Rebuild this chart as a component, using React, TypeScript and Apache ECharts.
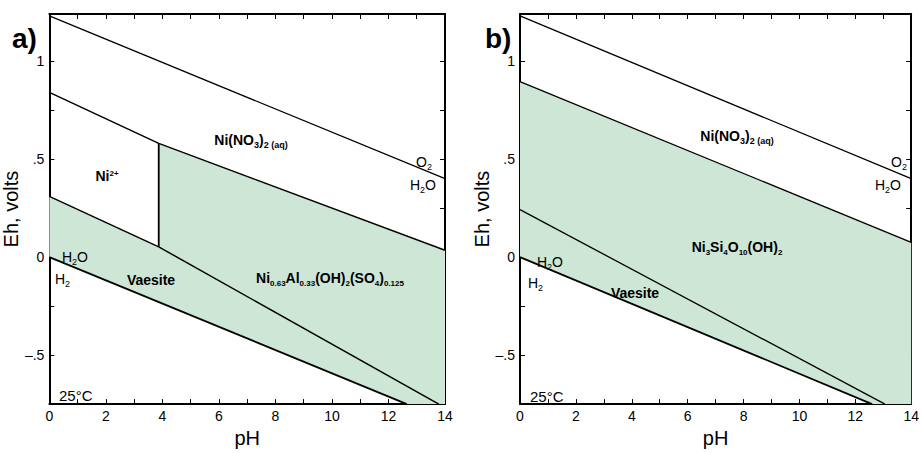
import React, { useEffect, useRef } from "react";
import * as echarts from "echarts";

// ---- data (pH, Eh in volts) ----
const pHRange = [0, 14];
const EhRange = [-0.75, 1.24];

// Panel a
const waterUpperA = [[0, 1.23], [14, 0.40]];
const waterLowerA = [[0, 0], [12.65, -0.75]];
const nitrateBoundA = [[0, 0.84], [3.87, 0.58], [14, 0.035]];
const ni2VerticalA = [[3.87, 0.58], [3.87, 0.052]];
const vaesiteTopA = [[0, 0.31], [3.87, 0.052], [13.78, -0.75]];
const stableFieldA = [[0, 0], [0, 0.31], [3.87, 0.052], [3.87, 0.58], [14, 0.035], [14, -0.75], [12.65, -0.75]];

// Panel b
const waterUpperB = [[0, 1.23], [14, 0.40]];
const waterLowerB = [[0, 0], [12.6, -0.75]];
const nitrateBoundB = [[0, 0.895], [14, 0.075]];
const vaesiteTopB = [[0, 0.242], [13.06, -0.75]];
const stableFieldB = [[0, 0], [0, 0.895], [14, 0.075], [14, -0.75], [12.6, -0.75]];

const GREEN = "#cde6d5";
const FONT = "'Liberation Sans', Arial, Helvetica, sans-serif";

function yFmt(v: number) {
  const r = Math.round(v * 100) / 100;
  if (r === 1) return "1";
  if (r === 0.5) return ".5";
  if (r === 0) return "0";
  if (r === -0.5) return "\u2013.5";
  return "";
}

const tick = { show: true, inside: true, length: 5, lineStyle: { color: "#000", width: 1 } };
const minor = { show: true, splitNumber: 2, length: 5, lineStyle: { color: "#000", width: 1 } };
const aLine = { show: true, onZero: false, lineStyle: { color: "#000", width: 2 } };

function xAxes(grid: number) {
  return [
    {
      type: "value", gridIndex: grid, position: "bottom", min: pHRange[0], max: pHRange[1], interval: 2,
      axisLine: aLine, axisTick: tick, minorTick: minor, splitLine: { show: false },
      axisLabel: { color: "#000", fontSize: 14, margin: 5, fontFamily: FONT },
      name: "pH", nameLocation: "middle", nameGap: 22,
      nameTextStyle: { color: "#000", fontSize: 20, fontFamily: FONT },
    },
    {
      type: "value", gridIndex: grid, position: "top", min: pHRange[0], max: pHRange[1], interval: 2,
      axisLine: aLine, axisTick: tick, minorTick: minor, splitLine: { show: false },
      axisLabel: { show: false },
    },
  ];
}

function yAxes(grid: number, gap: number) {
  return [
    {
      type: "value", gridIndex: grid, position: "left", min: EhRange[0], max: EhRange[1], interval: 0.25,
      axisLine: aLine, axisTick: tick, splitLine: { show: false },
      axisLabel: { color: "#000", fontSize: 14, margin: 5, fontFamily: FONT, formatter: yFmt, showMaxLabel: false },
      name: "Eh, volts", nameLocation: "middle", nameGap: gap, nameRotate: 90,
      nameTextStyle: { color: "#000", fontSize: 20, fontFamily: FONT },
    },
    {
      type: "value", gridIndex: grid, position: "right", min: EhRange[0], max: EhRange[1], interval: 0.25,
      axisLine: aLine, axisTick: tick, splitLine: { show: false },
      axisLabel: { show: false },
    },
  ];
}

function polySeries(pts: number[][], axis: number) {
  return {
    type: "custom", xAxisIndex: axis, yAxisIndex: axis, data: pts, silent: true, z: 1,
    renderItem: (params: any, api: any) => {
      if (params.dataIndex !== 0) return null;
      return {
        type: "polygon",
        shape: { points: pts.map((p) => api.coord(p)) },
        style: { fill: GREEN, stroke: null },
      };
    },
  };
}

function lineSeries(pts: number[][], axis: number, width: number) {
  return {
    type: "line", xAxisIndex: axis, yAxisIndex: axis, data: pts, symbol: "none", silent: true, z: 3,
    lineStyle: { color: "#000", width },
  };
}

const rich = {
  b: { fontSize: 14, fontWeight: "bold", lineHeight: 16, verticalAlign: "top", fill: "#000", fontFamily: FONT },
  s: { fontSize: 9, fontWeight: "bold", lineHeight: 9, verticalAlign: "bottom", fill: "#000", fontFamily: FONT },
  t: { fontSize: 8, fontWeight: "bold", lineHeight: 8, verticalAlign: "bottom", fill: "#000", fontFamily: FONT },
  p: { fontSize: 8, fontWeight: "bold", lineHeight: 8, verticalAlign: "top", fill: "#000", fontFamily: FONT },
  r: { fontSize: 14, lineHeight: 16, verticalAlign: "top", fill: "#000", fontFamily: FONT },
  rs: { fontSize: 9, lineHeight: 9, verticalAlign: "bottom", fill: "#000", fontFamily: FONT },
};

function txt(x: number, y: number, text: string, align = "center") {
  return {
    type: "text", x, y, z: 10, silent: true,
    style: { text, rich, align, verticalAlign: "middle", fill: "#000", fontFamily: FONT, fontSize: 14 },
  };
}

function plain(x: number, y: number, text: string, size: number, bold = false, align = "left") {
  return {
    type: "text", x, y, z: 10, silent: true,
    style: { text, align, verticalAlign: "middle", fill: "#000", fontFamily: FONT, fontSize: size, fontWeight: bold ? "bold" : "normal" },
  };
}

export default function App() {
  const ref = useRef<HTMLDivElement>(null);
  useEffect(() => {
    if (!ref.current) return;
    document.body.style.margin = "0";
    const chart = echarts.init(ref.current, undefined, { renderer: "svg" });
    chart.setOption({
      animation: false,
      backgroundColor: "#fff",
      grid: [
        { left: 49, top: 14, width: 396, height: 396 },
        { left: 520, top: 14, width: 395, height: 396 },
      ],
      xAxis: [...xAxes(0), ...xAxes(1)],
      yAxis: [...yAxes(0, 21), ...yAxes(1, 18)],
      series: [
        polySeries(stableFieldA, 0),
        lineSeries(waterUpperA, 0, 1.3),
        lineSeries(waterLowerA, 0, 1.8),
        lineSeries(nitrateBoundA, 0, 1.5),
        lineSeries(ni2VerticalA, 0, 1.8),
        lineSeries(vaesiteTopA, 0, 1.5),
        polySeries(stableFieldB, 2),
        lineSeries(waterUpperB, 2, 1.3),
        lineSeries(waterLowerB, 2, 1.8),
        lineSeries(nitrateBoundB, 2, 1.3),
        lineSeries(vaesiteTopB, 2, 1.3),
      ],
      graphic: [
        plain(12, 38, "a)", 28, true),
        plain(485, 38, "b)", 28, true),
        // panel a
        txt(251, 141, "{b|Ni(NO}{s|3}{b|)}{s|2 (aq)}"),
        txt(107, 177, "{b|Ni}{p|2+}"),
        txt(432, 163, "{r|O}{rs|2}", "right"),
        txt(436, 186, "{r|H}{rs|2}{r|O}", "right"),
        txt(62, 258, "{r|H}{rs|2}{r|O}", "left"),
        txt(55, 280, "{r|H}{rs|2}", "left"),
        plain(151, 280, "Vaesite", 14, true, "center"),
        txt(330, 279, "{b|Ni}{t|0.63}{b|Al}{t|0.33}{b|(OH)}{t|2}{b|(SO}{t|4}{b|)}{t|0.125}"),
        plain(59, 395, "25\u00b0C", 15),
        // panel b
        txt(737, 137, "{b|Ni(NO}{s|3}{b|)}{s|2 (aq)}"),
        txt(907, 163, "{r|O}{rs|2}", "right"),
        txt(901, 186, "{r|H}{rs|2}{r|O}", "right"),
        txt(737, 248, "{b|Ni}{t|3}{b|Si}{t|4}{b|O}{t|10}{b|(OH)}{t|2}"),
        txt(537, 263, "{r|H}{rs|2}{r|O}", "left"),
        txt(528, 284, "{r|H}{rs|2}", "left"),
        plain(635, 293, "Vaesite", 14, true, "center"),
        plain(530, 396, "25\u00b0C", 15),
      ],
    });
    return () => chart.dispose();
  }, []);
  return (
    <div
      ref={ref}
      style={{ position: "absolute", left: 0, top: 0, width: 922, height: 453 }}
    />
  );
}
